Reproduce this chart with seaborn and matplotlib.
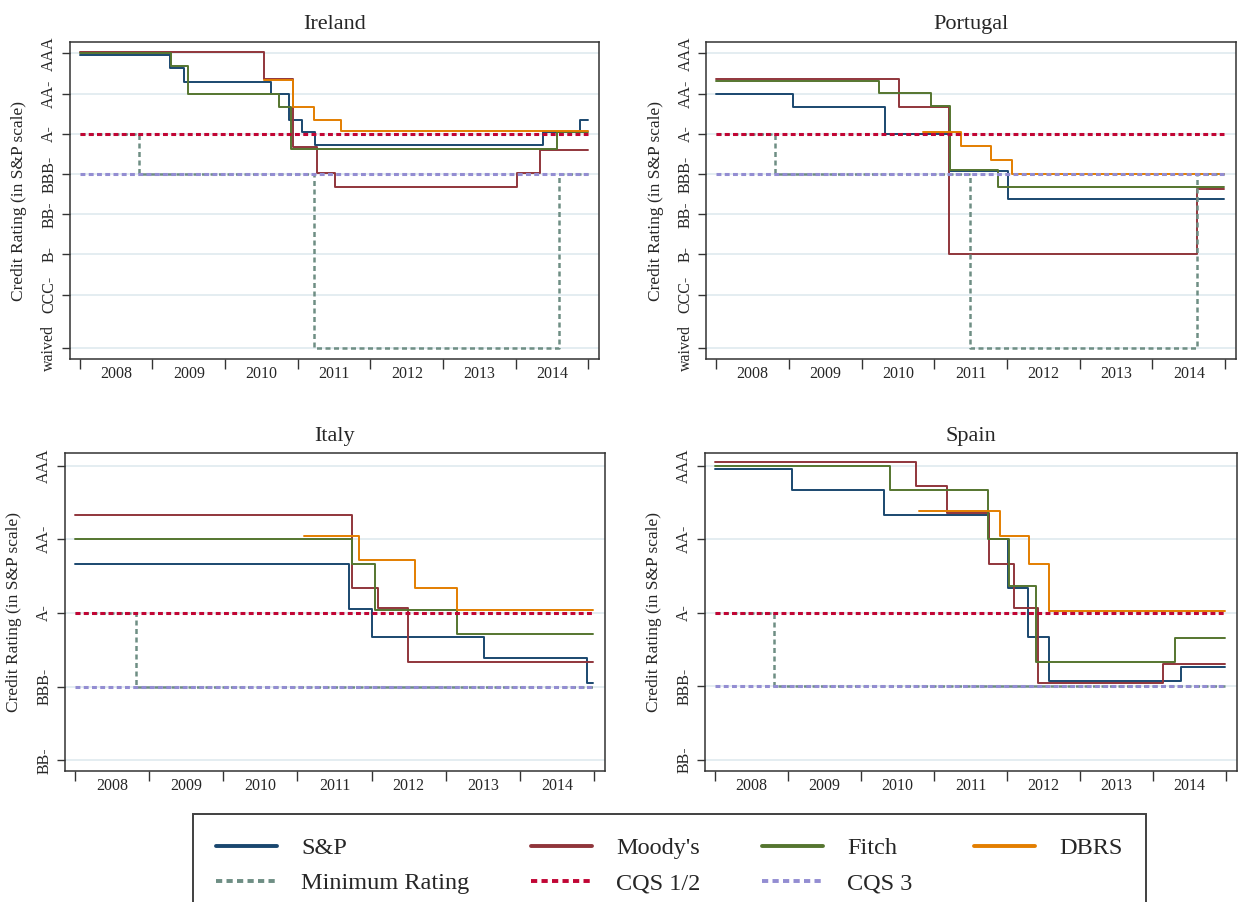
import matplotlib
matplotlib.use("Agg")
import matplotlib.pyplot as plt
from matplotlib.lines import Line2D
import pandas as pd
import seaborn as sns

# ---------------- data (rating notch: AAA=1 ... CCC-=19, waived=23) ----------------
AGENCIES = ["S&P", "Moody's", "Fitch", "DBRS"]
START = 2008.0
END = 2014.99
YEARS = [2008, 2009, 2010, 2011, 2012, 2013, 2014]

TICKS_FULL = [1, 4, 7, 10, 13, 16, 19, 23]
LABELS_FULL = ["AAA", "AA-", "A-", "BBB-", "BB-", "B-", "CCC-", "waived"]
TICKS_SHORT = [1, 4, 7, 10, 13]
LABELS_SHORT = ["AAA", "AA-", "A-", "BBB-", "BB-"]

CQS12_LEVEL = 7
CQS3_LEVEL = 10

# Ireland
IE_SP_X = [2008.0, 2009.24, 2009.43, 2010.63, 2010.88, 2011.06, 2011.23, 2014.38, 2014.88]
IE_SP_Y = [1.15, 2.1, 3.14, 4.0, 6.0, 6.86, 7.85, 6.86, 6.0]
IE_MO_X = [2008.0, 2010.53, 2010.94, 2011.27, 2011.51, 2014.01, 2014.33]
IE_MO_Y = [0.87, 2.87, 8.0, 9.95, 10.97, 9.95, 8.18]
IE_FI_X = [2008.0, 2009.26, 2009.49, 2010.74, 2010.91, 2014.57]
IE_FI_Y = [1.0, 1.9, 4.0, 5.0, 8.16, 6.86]
IE_DB_X = [2010.53, 2010.94, 2011.22, 2011.6]
IE_DB_Y = [3.0, 5.0, 6.0, 6.8]
IE_MIN_X = [2008.0, 2008.81, 2011.22, 2014.59]
IE_MIN_Y = [7, 10, 23, 10]

# Portugal
PT_SP_X = [2008.0, 2009.06, 2010.32, 2011.21, 2012.01]
PT_SP_Y = [4.0, 4.97, 6.98, 9.76, 11.9]
PT_MO_X = [2008.0, 2010.51, 2011.20, 2014.62]
PT_MO_Y = [2.93, 4.97, 16.0, 11.15]
PT_FI_X = [2008.0, 2010.24, 2010.96, 2011.21, 2011.88]
PT_FI_Y = [3.02, 3.98, 4.9, 9.68, 11.0]
PT_DB_X = [2010.84, 2011.37, 2011.78, 2012.07]
PT_DB_Y = [6.89, 7.9, 8.97, 10.0]
PT_MIN_X = [2008.0, 2008.81, 2011.49, 2014.62]
PT_MIN_Y = [7, 10, 23, 10]

# Italy
IT_SP_X = [2008.0, 2011.69, 2012.0, 2013.52, 2014.91]
IT_SP_Y = [5.0, 6.84, 8.0, 8.85, 9.86]
IT_MO_X = [2008.0, 2011.73, 2012.09, 2012.49]
IT_MO_Y = [3.0, 6.0, 6.81, 9.0]
IT_FI_X = [2008.0, 2011.74, 2012.04, 2013.15]
IT_FI_Y = [4.0, 5.0, 6.89, 7.85]
IT_DB_X = [2011.09, 2011.83, 2012.58, 2013.15]
IT_DB_Y = [3.85, 4.85, 6.0, 6.89]
IT_MIN_X = [2008.0, 2008.82]
IT_MIN_Y = [7, 10]

# Spain
ES_SP_X = [2008.0, 2009.05, 2010.32, 2011.75, 2012.01, 2012.29, 2012.57, 2014.38]
ES_SP_Y = [1.15, 1.99, 3.0, 4.0, 6.0, 8.0, 9.8, 9.2]
ES_MO_X = [2008.0, 2010.75, 2011.18, 2011.76, 2012.09, 2012.42, 2014.14]
ES_MO_Y = [0.84, 1.85, 2.92, 5.0, 6.81, 9.85, 9.1]
ES_FI_X = [2008.0, 2010.4, 2011.74, 2012.03, 2012.4, 2014.3]
ES_FI_Y = [1.0, 2.0, 4.0, 5.9, 9.0, 8.03]
ES_DB_X = [2010.8, 2011.9, 2012.3, 2012.57]
ES_DB_Y = [2.85, 3.86, 5.0, 6.91]
ES_MIN_X = [2008.0, 2008.81]
ES_MIN_Y = [7, 10]

# ---------------- style ----------------
sns.set_style("white")
plt.rcParams["font.family"] = ["Liberation Serif", "DejaVu Serif"]

COLORS = {"S&P": "#1a476f", "Moody's": "#90353b", "Fitch": "#55752f", "DBRS": "#e37e00"}
MIN_COLOR = "#6e8e84"
CQS12_COLOR = "#c10534"
CQS3_COLOR = "#938dd2"
GRID_COLOR = "#e4edf1"
FRAME_COLOR = "#333333"
DOT = (0, (1.6, 1.1))
DASH = (0, (2.0, 1.4))

fig = plt.figure(figsize=(12.4, 9.02), dpi=100)


def px_axes(l, t, r, b):
    return fig.add_axes([l / 1240, 1 - b / 902, (r - l) / 1240, (b - t) / 902])


def step_df(xs, ys):
    return pd.DataFrame({"year": list(xs) + [END], "rating": list(ys) + [ys[-1]]})


def draw_country(ax, title, series, min_x, min_y, ticks, labels, ylim):
    for z, (name, (xs, ys)) in enumerate(zip(AGENCIES, series)):
        sns.lineplot(data=step_df(xs, ys), x="year", y="rating", ax=ax,
                     color=COLORS[name], linewidth=1.4, drawstyle="steps-post",
                     estimator=None, sort=False, zorder=3 + z)
    sns.lineplot(data=step_df(min_x, min_y), x="year", y="rating", ax=ax,
                 color=MIN_COLOR, linewidth=1.8, linestyle=DASH,
                 drawstyle="steps-post", estimator=None, sort=False, zorder=8)
    sns.lineplot(x=[START, END], y=[CQS12_LEVEL, CQS12_LEVEL], ax=ax,
                 color=CQS12_COLOR, linewidth=2.2, linestyle=DOT, zorder=9)
    sns.lineplot(x=[START, END], y=[CQS3_LEVEL, CQS3_LEVEL], ax=ax,
                 color=CQS3_COLOR, linewidth=2.2, linestyle=DOT, zorder=10)

    ax.set_xlim(2007.86, 2015.15)
    ax.set_ylim(*ylim)
    ax.set_yticks(ticks)
    ax.set_yticklabels(labels, rotation=90, va="center", fontsize=11.5)
    ax.yaxis.grid(True, color=GRID_COLOR, linewidth=1.4)
    ax.xaxis.grid(False)
    ax.set_axisbelow(True)

    ax.set_xticks([y for y in YEARS] + [2015])
    ax.set_xticklabels([])
    ax.set_xticks([y + 0.5 for y in YEARS], minor=True)
    ax.set_xticklabels([str(y) for y in YEARS], minor=True, fontsize=11.5)
    ax.tick_params(axis="x", which="major", direction="out", length=7.5,
                   width=1.0, color=FRAME_COLOR, bottom=True)
    ax.tick_params(axis="x", which="minor", length=0, pad=5, bottom=True)
    ax.tick_params(axis="y", direction="out", length=6, width=1.0,
                   color=FRAME_COLOR, left=True, pad=3)
    for s in ax.spines.values():
        s.set_color(FRAME_COLOR)
        s.set_linewidth(1.1)
    ax.set_xlabel("")
    ax.set_ylabel("Credit Rating (in S&P scale)", fontsize=12.5, labelpad=10)
    ax.set_title(title, fontsize=16, pad=9)


ax_ie = px_axes(69.6, 41.7, 599.4, 359.3)
ax_pt = px_axes(706.2, 41.7, 1236, 359.3)
ax_it = px_axes(64.8, 453.3, 605, 771)
ax_es = px_axes(704.7, 453.3, 1237, 770.7)

draw_country(ax_ie, "Ireland",
             [(IE_SP_X, IE_SP_Y), (IE_MO_X, IE_MO_Y), (IE_FI_X, IE_FI_Y), (IE_DB_X, IE_DB_Y)],
             IE_MIN_X, IE_MIN_Y, TICKS_FULL, LABELS_FULL, (23.83, 0.12))
draw_country(ax_pt, "Portugal",
             [(PT_SP_X, PT_SP_Y), (PT_MO_X, PT_MO_Y), (PT_FI_X, PT_FI_Y), (PT_DB_X, PT_DB_Y)],
             PT_MIN_X, PT_MIN_Y, TICKS_FULL, LABELS_FULL, (23.83, 0.12))
draw_country(ax_it, "Italy",
             [(IT_SP_X, IT_SP_Y), (IT_MO_X, IT_MO_Y), (IT_FI_X, IT_FI_Y), (IT_DB_X, IT_DB_Y)],
             IT_MIN_X, IT_MIN_Y, TICKS_SHORT, LABELS_SHORT, (13.44, 0.5))
draw_country(ax_es, "Spain",
             [(ES_SP_X, ES_SP_Y), (ES_MO_X, ES_MO_Y), (ES_FI_X, ES_FI_Y), (ES_DB_X, ES_DB_Y)],
             ES_MIN_X, ES_MIN_Y, TICKS_SHORT, LABELS_SHORT, (13.44, 0.5))

# ---------------- legend ----------------
h = {
    "S&P": Line2D([], [], color=COLORS["S&P"], lw=2.8),
    "Moody's": Line2D([], [], color=COLORS["Moody's"], lw=2.8),
    "Fitch": Line2D([], [], color=COLORS["Fitch"], lw=2.8),
    "DBRS": Line2D([], [], color=COLORS["DBRS"], lw=2.8),
    "Minimum Rating": Line2D([], [], color=MIN_COLOR, lw=2.8, linestyle=DOT),
    "CQS 1/2": Line2D([], [], color=CQS12_COLOR, lw=2.8, linestyle=DOT),
    "CQS 3": Line2D([], [], color=CQS3_COLOR, lw=2.8, linestyle=DOT),
}
order = ["S&P", "Minimum Rating", "Moody's", "CQS 1/2", "Fitch", "CQS 3", "DBRS"]
leg = fig.legend([h[k] for k in order], order, ncol=4, loc="upper left",
                 bbox_to_anchor=(193 / 1240, 0, 953 / 1240, 88 / 902),
                 mode="expand", frameon=True, fancybox=False, fontsize=17.5,
                 handlelength=2.5, handletextpad=1.0, borderpad=0.95,
                 labelspacing=0.55, borderaxespad=0)
leg.get_frame().set_edgecolor("#111111")
leg.get_frame().set_linewidth(1.4)

fig.savefig("out.png", dpi=100)
